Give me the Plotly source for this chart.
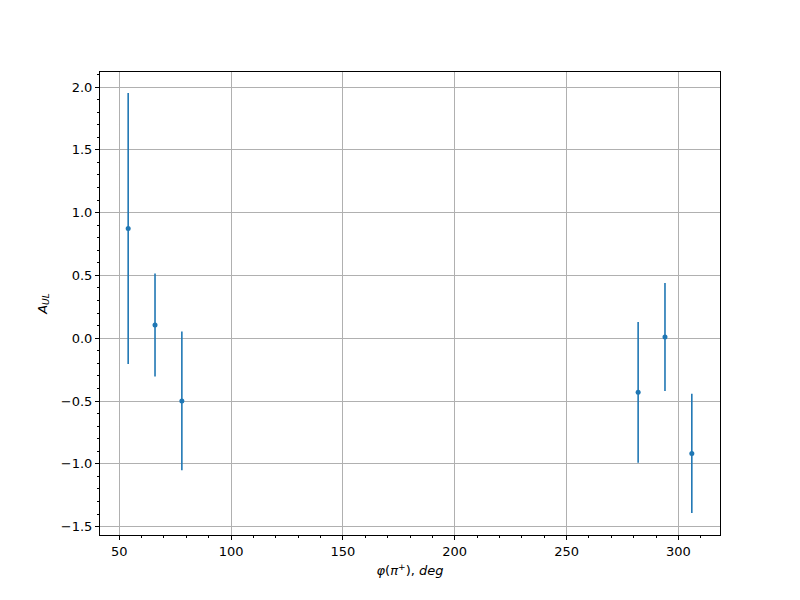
import plotly.graph_objects as go

phi = [54, 66, 78, 282, 294, 306]
a_ul = [0.873, 0.105, -0.499, -0.431, 0.009, -0.917]
a_err = [1.079, 0.41, 0.553, 0.56, 0.43, 0.475]

blue = "#1f77b4"
fig = go.Figure()
fig.add_trace(go.Scatter(
    x=phi, y=a_ul, mode="markers",
    marker=dict(color=blue, size=5),
    error_y=dict(type="data", array=a_err, visible=True, color=blue, thickness=1.6, width=0),
    showlegend=False,
))

axis_common = dict(
    showline=True, linecolor="black", linewidth=1, mirror=True,
    ticks="outside", ticklen=4, tickwidth=0.8, tickcolor="black",
    showgrid=True, gridcolor="#b0b0b0", gridwidth=0.8,
    zeroline=False,
    tickfont=dict(family="DejaVu Sans", size=13, color="black"),
)

fig.update_xaxes(
    range=[41.4, 318.6], tickmode="array", tickvals=[50, 100, 150, 200, 250, 300],
    ticktext=["50", "100", "150", "200", "250", "300"],
    minor=dict(ticks="outside", ticklen=2, tickwidth=0.6, tickcolor="black", dtick=10, tick0=0, showgrid=False),
    title=dict(text="<i>φ</i>(<i>π</i><sup>+</sup>), <i>deg</i>", font=dict(family="DejaVu Sans", size=13, color="black"), standoff=8),
    **axis_common,
)
fig.update_yaxes(
    range=[-1.567, 2.12], tickmode="array", tickvals=[-1.5, -1.0, -0.5, 0.0, 0.5, 1.0, 1.5, 2.0],
    ticktext=["\u22121.5", "\u22121.0", "\u22120.5", "0.0", "0.5", "1.0", "1.5", "2.0"],
    minor=dict(ticks="outside", ticklen=2, tickwidth=0.6, tickcolor="black", dtick=0.1, tick0=0, showgrid=False),
    title=dict(text="<i>A</i><sub><i>UL</i></sub>", font=dict(family="DejaVu Sans", size=13, color="black"), standoff=10),
    **axis_common,
)

fig.update_layout(
    width=800, height=600,
    margin=dict(l=92, r=88, t=64, b=73),
    paper_bgcolor="white", plot_bgcolor="white",
    font=dict(family="DejaVu Sans", size=13, color="black"),
)

fig.write_html("out.html")
